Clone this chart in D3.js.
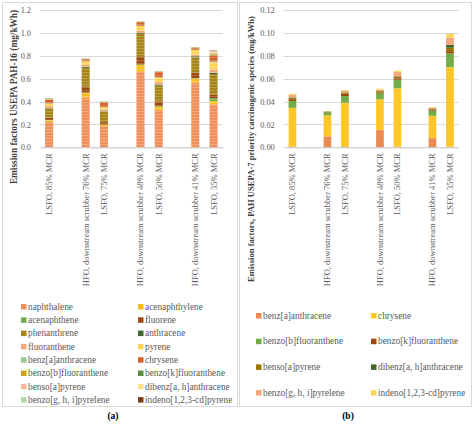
<!DOCTYPE html>
<html>
<head>
<meta charset="utf-8">
<script src="https://cdn.jsdelivr.net/npm/d3@7"></script>
<style>
  body { margin: 0; background: #fff; }
  text { font-family: "Liberation Serif", "DejaVu Serif", serif; }
</style>
</head>
<body>
<div id="chart"></div>
<script>
// x axis slots (blank slots are gaps between groups)
const categories = ["LSFO, 85% MCR", " ", "HFO, downstream scrubber 76% MCR", "LSFO, 75% MCR", "  ",
  "HFO, downstream scrubber 48% MCR", "LSFO, 50% MCR", "   ", "HFO, downstream scrubber 41% MCR", "LSFO, 35% MCR"];
const barCats = ["LSFO, 85% MCR", "HFO, downstream scrubber 76% MCR", "LSFO, 75% MCR",
  "HFO, downstream scrubber 48% MCR", "LSFO, 50% MCR", "HFO, downstream scrubber 41% MCR", "LSFO, 35% MCR"];

// (a) USEPA PAH-16, mg/kWh, one row per species, values per bar
const pah16Names = ["naphthalene", "acenaphthylene", "acenaphthene", "fluorene", "phenanthrene", "anthracene",
  "fluoranthene", "pyrene", "benz[a]anthracene", "chrysene", "benzo[b]fluoranthene", "benzo[k]fluoranthene",
  "benso[a]pyrene", "dibenz[a, h]anthracene", "benzo[g, h, i]pyrelene", "indeno[1,2,3-cd]pyrene"];
const pah16Colors = ["#ef905a", "#f7bd1c", "#70ad47", "#9e480e", "#a68418", "#43682b",
  "#f2a67c", "#ffd54f", "#9cc98a", "#d4622a", "#c9a227", "#5e8f3e",
  "#f5b99a", "#ffe08a", "#b5d6a7", "#7b3e14"];
const pah16 = [
  [0.22, 0.435, 0.185, 0.66, 0.325, 0.565, 0.375],
  [0.015, 0.04, 0.012, 0.06, 0.03, 0.035, 0.03],
  [0.005, 0.005, 0.003, 0.005, 0.005, 0.005, 0.025],
  [0.02, 0.05, 0.02, 0.065, 0.04, 0.045, 0.03],
  [0.08, 0.165, 0.09, 0.2, 0.14, 0.135, 0.18],
  [0.005, 0.01, 0.005, 0.01, 0.01, 0.01, 0.012],
  [0.015, 0.015, 0.015, 0.02, 0.02, 0.015, 0.03],
  [0.02, 0.03, 0.02, 0.04, 0.04, 0.04, 0.06],
  [0.005, 0.003, 0.003, 0.003, 0.003, 0.003, 0.008],
  [0.03, 0.015, 0.04, 0.03, 0.045, 0.015, 0.05],
  [0.005, 0.003, 0.003, 0.003, 0.003, 0.003, 0.01],
  [0.002, 0.002, 0.001, 0.001, 0.001, 0.001, 0.005],
  [0.003, 0.001, 0.001, 0.001, 0.001, 0.001, 0.01],
  [0.002, 0.001, 0.001, 0.001, 0.001, 0.001, 0.01],
  [0.002, 0.001, 0.001, 0.001, 0.001, 0.001, 0.005],
  [0.002, 0.001, 0.001, 0.001, 0.001, 0.001, 0.005]
];
const ticksA = [0, 0.2, 0.4, 0.6, 0.8, 1.0, 1.2];

// (b) USEPA-7 priority carcinogenic species, mg/kWh
const pah7Names = ["benz[a]anthracene", "chrysene", "benzo[b]fluoranthene", "benzo[k]fluoranthene",
  "benso[a]pyrene", "dibenz[a, h]anthracene", "benzo[g, h, i]pyrelene", "indeno[1,2,3-cd]pyrene"];
const pah7Colors = ["#ec8a55", "#ffc62a", "#70ad47", "#9e480e", "#997300", "#43682b", "#f2a67c", "#ffd54f"];
const pah7 = [
  [0.0005, 0.0095, 0.0003, 0.015, 0.0005, 0.008, 0.0005],
  [0.034, 0.0185, 0.0387, 0.027, 0.051, 0.0195, 0.0695],
  [0.006, 0.0025, 0.0058, 0.005, 0.0075, 0.0045, 0.012],
  [0.0015, 0.0003, 0.0022, 0.0008, 0.001, 0.001, 0.002],
  [0.001, 0.0003, 0.0007, 0.0012, 0.0015, 0.0007, 0.003],
  [0.0005, 0.0002, 0.0003, 0.0003, 0.0005, 0.0003, 0.0025],
  [0.0025, 0.0002, 0.0013, 0.0012, 0.004, 0.0005, 0.0065],
  [0.0008, 0.0002, 0.0007, 0.0007, 0.001, 0.0005, 0.003]
];
const ticksB = [0, 0.02, 0.04, 0.06, 0.08, 0.10, 0.12];

const W = 474, H = 424;
const svg = d3.select("#chart").append("svg").attr("width", W).attr("height", H);

// stripe pattern seen on the bars
const defs = svg.append("defs");
defs.append("pattern").attr("id", "stripes").attr("width", 4).attr("height", 3)
  .attr("patternUnits", "userSpaceOnUse")
  .append("rect").attr("x", 0).attr("y", 0).attr("width", 4).attr("height", 1)
  .attr("fill", "#fff").attr("opacity", 0.22);

function drawPanel(o) {
  // frame
  svg.append("rect").attr("x", o.frame[0]).attr("y", o.frame[1])
    .attr("width", o.frame[2]).attr("height", o.frame[3])
    .attr("fill", "none").attr("stroke", "#d9d9d9").attr("stroke-width", 1);

  const x = d3.scaleBand().domain(categories).range([o.x0, o.x1])
    .paddingInner(0.56).paddingOuter(0.28);
  const y = d3.scaleLinear().domain([0, o.ticks[o.ticks.length - 1]]).range([o.y0, o.y1]);

  // gridlines
  svg.append("g").selectAll("line").data(o.ticks.slice(1)).join("line")
    .attr("x1", o.x0).attr("x2", o.x1)
    .attr("y1", d => Math.round(y(d)) + 0.5).attr("y2", d => Math.round(y(d)) + 0.5)
    .attr("stroke", "#d9d9d9");

  // y axis labels
  const ya = svg.append("g").attr("transform", `translate(${o.x0},0)`)
    .call(d3.axisLeft(y).tickValues(o.ticks).tickSize(0).tickPadding(9).tickFormat(d3.format(o.fmt)));
  ya.select(".domain").remove();
  ya.selectAll("text").attr("font-size", 8.3).attr("fill", "#595959")
    .style("font-family", "Liberation Serif, serif");

  // stacks
  const rows = barCats.map((c, i) => {
    const r = { cat: c };
    o.names.forEach((n, k) => r[n] = o.values[k][i]);
    return r;
  });
  const stacked = d3.stack().keys(o.names)(rows);
  const bars = svg.append("g");
  stacked.forEach((s, k) => {
    bars.append("g").attr("fill", o.colors[k]).selectAll("rect").data(s).join("rect")
      .attr("x", d => x(d.data.cat))
      .attr("width", x.bandwidth())
      .attr("y", d => y(d[1]))
      .attr("height", d => Math.max(0, y(d[0]) - y(d[1])));
  });
  if (o.stripes) {
    bars.append("g").selectAll("rect").data(stacked[stacked.length - 1]).join("rect")
      .attr("x", d => x(d.data.cat)).attr("width", x.bandwidth())
      .attr("y", d => y(d[1])).attr("height", d => y(0) - y(d[1]))
      .attr("fill", "url(#stripes)");
  }

  // x axis
  const xa = svg.append("g").attr("transform", `translate(0,${o.y0})`)
    .call(d3.axisBottom(x).tickSize(0).tickPadding(0));
  xa.select(".domain").attr("stroke", "#bfbfbf");
  xa.selectAll("text")
    .attr("font-size", 8.5).attr("fill", "#595959")
    .style("font-family", "Liberation Serif, serif")
    .attr("transform", "rotate(-90)")
    .attr("text-anchor", "end")
    .attr("x", -6).attr("y", 0).attr("dy", "0.35em");

  // y title
  svg.append("text")
    .attr("transform", `translate(${o.titleX},${o.titleY}) rotate(-90)`)
    .attr("text-anchor", "middle").attr("dy", "0.35em")
    .attr("font-size", o.titleSize).attr("font-weight", "bold").attr("fill", "#404040")
    .text(o.title);

  // legend
  const lg = svg.append("g");
  o.names.forEach((n, k) => {
    const cx = o.legCols[k % 2], cy = o.legY0 + Math.floor(k / 2) * o.legDy;
    lg.append("rect").attr("x", cx).attr("y", cy - 2.7).attr("width", 5.5).attr("height", 5.5)
      .attr("fill", o.colors[k]);
    lg.append("text").attr("x", cx + 7).attr("y", cy).attr("dy", "0.33em")
      .attr("font-size", 9.3).attr("fill", "#595959").text(n);
  });

  // caption
  svg.append("text").attr("x", o.capX).attr("y", 416).attr("dy", "0.35em")
    .attr("text-anchor", "middle").attr("font-size", 9.5).attr("font-weight", "bold")
    .attr("fill", "#000").text(o.caption);
}

drawPanel({
  frame: [2.5, 2.5, 235, 404], x0: 40, x1: 222.7, y0: 147.3, y1: 10,
  ticks: ticksA, fmt: ".1f", names: pah16Names, colors: pah16Colors, values: pah16,
  stripes: true,
  title: "Emission factors USEPA PAH-16 (mg/kWh)", titleX: 14, titleY: 97, titleSize: 9.3,
  legCols: [21, 138], legY0: 306.7, legDy: 13.3, capX: 113, caption: "(a)"
});

drawPanel({
  frame: [239.5, 2.5, 232, 404], x0: 283.7, x1: 458.7, y0: 147.3, y1: 10,
  ticks: ticksB, fmt: ".2f", names: pah7Names, colors: pah7Colors, values: pah7,
  stripes: false,
  title: "Emission factors, PAH USEPA-7 priority carcinogenic species (mg/kWh)", titleX: 251, titleY: 149, titleSize: 8.6,
  legCols: [256, 371], legY0: 315.7, legDy: 25.7, capX: 348, caption: "(b)"
});
</script>
</body>
</html>
